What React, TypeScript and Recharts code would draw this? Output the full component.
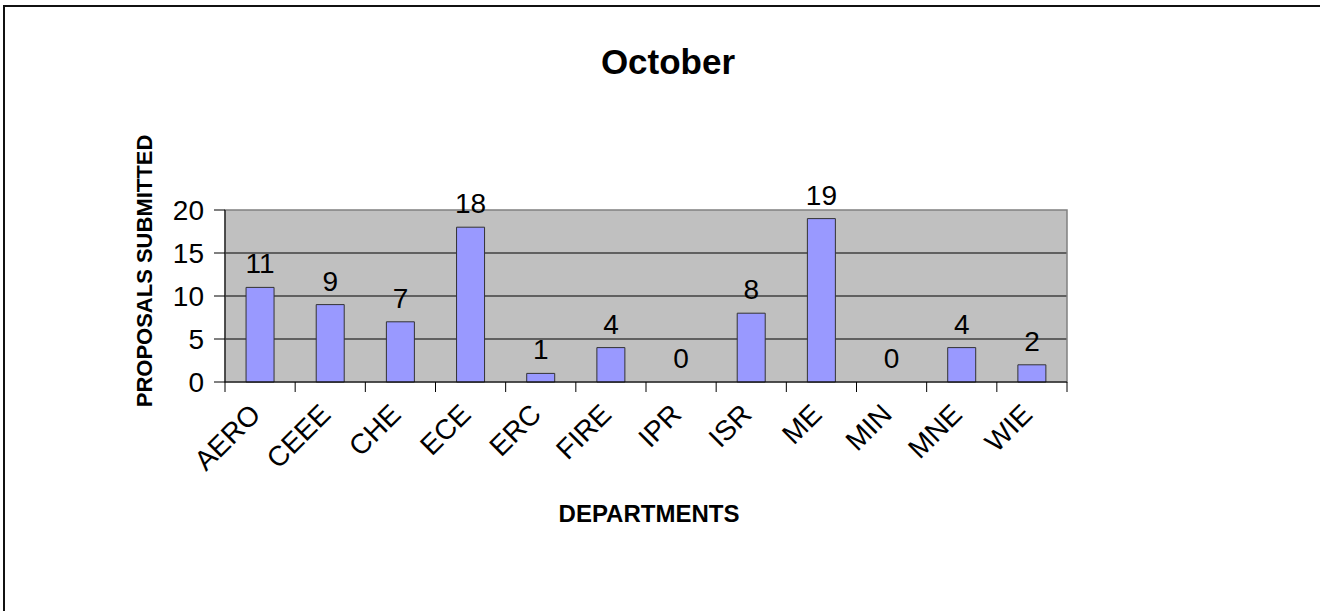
import React from "react";
import {
  Bar,
  CartesianGrid,
  ComposedChart,
  LabelList,
  Line,
  ReferenceArea,
  XAxis,
  YAxis,
} from "recharts";

const departments = ["AERO", "CEEE", "CHE", "ECE", "ERC", "FIRE", "IPR", "ISR", "ME", "MIN", "MNE", "WIE"];
const proposals = [11, 9, 7, 18, 1, 4, 0, 8, 19, 0, 4, 2];
const yTicks = [0, 5, 10, 15, 20];

const data = departments.map((d, i) => ({ dept: d, value: proposals[i] }));

const W = 1320;
const H = 611;
const margin = { top: 210, right: 253, bottom: 129, left: 0 };
const yAxisWidth = 225;
const xAxisHeight = 100;
const band = (W - margin.left - yAxisWidth - margin.right) / departments.length;
const font = "Arial, 'Liberation Sans', sans-serif";

const DeptTick = (props: any) => {
  const { x, y, payload, index } = props;
  const left = x - band / 2;
  const tx = x + 2;
  const ty = y + 34;
  return (
    <g>
      <line x1={left} y1={y} x2={left} y2={y + 10} stroke="#000" />
      {index === departments.length - 1 && (
        <line x1={x + band / 2} y1={y} x2={x + band / 2} y2={y + 10} stroke="#000" />
      )}
      <text
        x={tx}
        y={ty}
        transform={`rotate(-45, ${tx}, ${ty})`}
        textAnchor="end"
        fontSize={28}
        fontFamily={font}
        fill="#000"
      >
        {payload.value}
      </text>
    </g>
  );
};

const App = () => {
  return (
    <div style={{ position: "fixed", left: 0, top: 0, width: W, height: H, overflow: "hidden", background: "#fff", fontFamily: font }}>
      <div style={{ position: "absolute", left: 3, top: 5, width: W + 40, height: H + 40, borderLeft: "2px solid #111", borderTop: "2px solid #111" }} />
      <div style={{ position: "absolute", left: 568, top: 42, width: 200, textAlign: "center", fontSize: 35, fontWeight: "bold", color: "#000" }}>
        October
      </div>
      <div style={{ position: "absolute", left: 549, top: 500, width: 200, textAlign: "center", fontSize: 24, fontWeight: "bold", color: "#000" }}>
        DEPARTMENTS
      </div>
      <div
        style={{
          position: "absolute",
          left: 145 - 150,
          top: 271 - 13,
          width: 300,
          textAlign: "center",
          fontSize: 22,
          fontWeight: "bold",
          color: "#000",
          lineHeight: "26px",
          transform: "rotate(-90deg)",
        }}
      >
        PROPOSALS SUBMITTED
      </div>
      <div style={{ position: "absolute", left: 0, top: 0 }}>
        <ComposedChart width={W - 20} height={H} data={data} margin={{ ...margin, right: margin.right - 20 }} barCategoryGap="30%">
          <CartesianGrid
            vertical={false}
            horizontalValues={[5, 10, 15]}
            fill="#C0C0C0"
            fillOpacity={1}
            stroke="#000"
          />
          <ReferenceArea y1={0} y2={20} fill="none" stroke="#808080" strokeWidth={1.5} ifOverflow="visible" />
          <XAxis
            dataKey="dept"
            height={xAxisHeight}
            interval={0}
            tickLine={false}
            tickSize={0}
            tickMargin={0}
            axisLine={{ stroke: "#000" }}
            tick={<DeptTick />}
          />
          <YAxis
            width={yAxisWidth}
            domain={[0, 20]}
            ticks={yTicks}
            interval={0}
            tickSize={11}
            tickMargin={10}
            axisLine={{ stroke: "#000" }}
            tickLine={{ stroke: "#000" }}
            tick={{ fill: "#000", fontSize: 28, fontFamily: font }}
          />
          <Bar dataKey="value" fill="#9999FF" stroke="#333" strokeWidth={1} isAnimationActive={false} />
          <Line
            dataKey="value"
            stroke="none"
            dot={false}
            activeDot={false}
            isAnimationActive={false}
          >
            <LabelList dataKey="value" position="top" offset={14} fill="#000" fontSize={28} fontFamily={font} />
          </Line>
        </ComposedChart>
      </div>
    </div>
  );
};

export default App;
